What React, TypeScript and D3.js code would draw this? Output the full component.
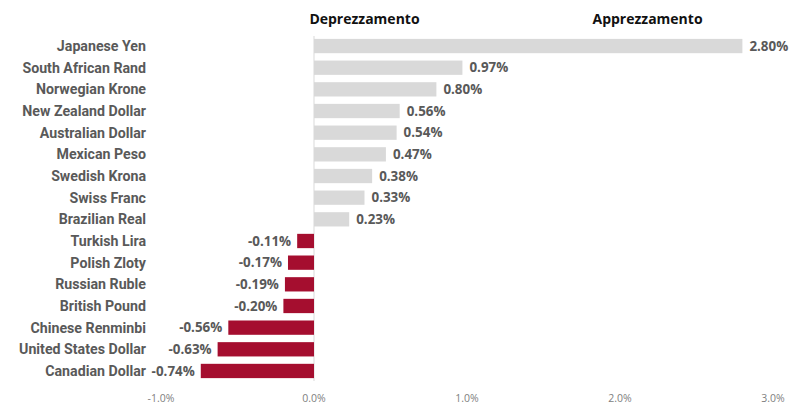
import React from "react";
import * as d3 from "d3";

const categories = [
  "Japanese Yen",
  "South African Rand",
  "Norwegian Krone",
  "New Zealand Dollar",
  "Australian Dollar",
  "Mexican Peso",
  "Swedish Krona",
  "Swiss Franc",
  "Brazilian Real",
  "Turkish Lira",
  "Polish Zloty",
  "Russian Ruble",
  "British Pound",
  "Chinese Renminbi",
  "United States Dollar",
  "Canadian Dollar",
];
const values = [2.8, 0.97, 0.8, 0.56, 0.54, 0.47, 0.38, 0.33, 0.23, -0.11, -0.17, -0.19, -0.2, -0.56, -0.63, -0.74];
const xTicks = [-1, 0, 1, 2, 3];
const headers = [
  { text: "Deprezzamento", at: 0.33 },
  { text: "Apprezzamento", at: 2.18 },
];

const W = 789;
const H = 405;

export default function App() {
  const x = d3.scaleLinear().domain([-1, 3]).range([161, 773]);
  const y = d3.scaleBand<string>().domain(categories).range([35.2, 381.8]).paddingInner(0.34).paddingOuter(0.17);
  const fmt = (v: number) => v.toFixed(2) + "%";
  const tickFmt = (v: number) => v.toFixed(1) + "%";
  const labelFont = "Roboto, 'Liberation Sans', sans-serif";
  const valueFont = "'Open Sans', 'Liberation Sans', sans-serif";
  return (
    <svg width={W} height={H} style={{ position: "absolute", left: 0, top: 0, background: "#fff" }}>
      {headers.map((h) => (
        <text key={h.text} x={x(h.at)} y={24} textAnchor="middle" fontFamily={valueFont} fontWeight={700} fontSize={14} fill="#111">
          {h.text}
        </text>
      ))}
      <line x1={x(0)} x2={x(0)} y1={36} y2={381} stroke="#d9d9d9" strokeWidth={1} />
      {categories.map((c, i) => {
        const v = values[i];
        const yy = y(c)!;
        const bw = y.bandwidth();
        const x0 = Math.min(x(0), x(v));
        const w = Math.abs(x(v) - x(0));
        const cy = yy + bw / 2;
        return (
          <g key={c}>
            <rect x={x0} y={yy} width={w} height={bw} fill={v >= 0 ? "#d9d9d9" : "#a50e2f"} />
            <text x={146} y={cy} dy="0.35em" textAnchor="end" fontFamily={labelFont} fontWeight={700} fontSize={14.2} fill="#595959">
              {c}
            </text>
            <text
              x={v >= 0 ? x(v) + 7 : x(v) - 6}
              y={cy}
              dy="0.35em"
              textAnchor={v >= 0 ? "start" : "end"}
              fontFamily={valueFont}
              fontWeight={700}
              fontSize={13.4}
              fill="#595959"
            >
              {fmt(v)}
            </text>
          </g>
        );
      })}
      {xTicks.map((t) => (
        <text key={t} x={x(t)} y={402} textAnchor="middle" fontFamily={valueFont} fontSize={10.5} fill="#808080">
          {tickFmt(t)}
        </text>
      ))}
    </svg>
  );
}
